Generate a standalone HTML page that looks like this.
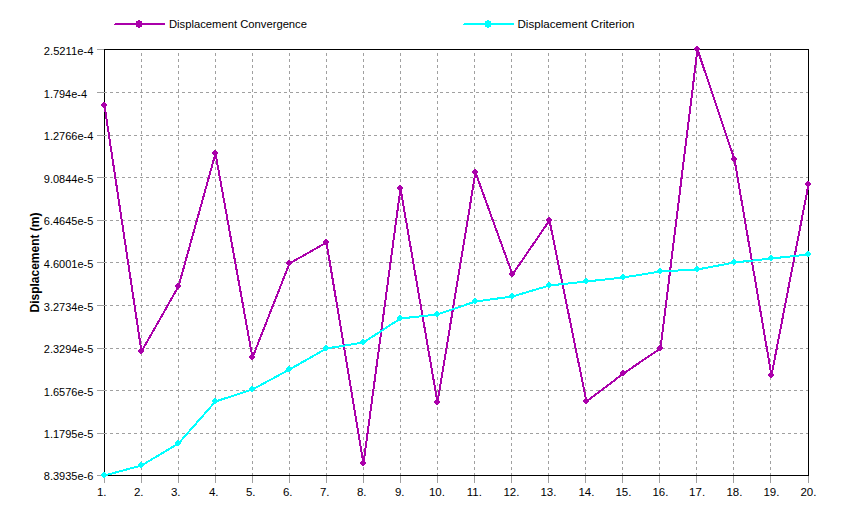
<!DOCTYPE html><html><head><meta charset="utf-8"><style>html,body{margin:0;padding:0;background:#fff;overflow:hidden;}svg{display:block;}text{font-family:"Liberation Sans",Arial,sans-serif;font-size:11px;fill:#000;}</style></head><body><svg width="847" height="522" viewBox="0 0 847 522"><rect width="847" height="522" fill="#fff"/><rect x="104.5" y="49.5" width="704" height="426" fill="none" stroke="#000" stroke-width="1" shape-rendering="crispEdges"/><path d="M104,92.5H808M104,135.5H808M104,177.5H808M104,220.5H808M104,262.5H808M104,305.5H808M104,348.5H808M104,390.5H808M104,433.5H808" stroke="#a0a0a0" stroke-width="1" stroke-dasharray="3 3" fill="none" shape-rendering="crispEdges"/><path d="M141.5,53V475M178.5,53V475M215.5,53V475M252.5,53V475M289.5,53V475M326.5,53V475M363.5,53V475M400.5,53V475M437.5,53V475M474.5,53V475M511.5,53V475M548.5,53V475M585.5,53V475M622.5,53V475M659.5,53V475M696.5,53V475M733.5,53V475M770.5,53V475" stroke="#a0a0a0" stroke-width="1" stroke-dasharray="3 3" fill="none" shape-rendering="crispEdges"/><path d="M97,49.5H104M97,92.5H104M97,135.5H104M97,177.5H104M97,220.5H104M97,262.5H104M97,305.5H104M97,348.5H104M97,390.5H104M97,433.5H104M97,475.5H104M104.5,476V483M141.5,476V483M178.5,476V483M215.5,476V483M252.5,476V483M289.5,476V483M326.5,476V483M363.5,476V483M400.5,476V483M437.5,476V483M474.5,476V483M511.5,476V483M548.5,476V483M585.5,476V483M622.5,476V483M659.5,476V483M696.5,476V483M733.5,476V483M770.5,476V483M808.5,476V483" stroke="#a0a0a0" stroke-width="1" fill="none" shape-rendering="crispEdges"/><path d="M104.48,105.48 L141.48,351.48 L178.48,286.48 L215.48,153.48 L252.48,357.48 L289.48,263.48 L326.48,242.48 L363.48,463.48 L400.48,188.48 L437.48,402.48 L475.48,172.48 L512.48,274.48 L549.48,220.48 L586.48,401.48 L623.48,373.48 L660.48,348.48 L697.48,49.48 L734.48,159.48 L771.48,375.48 L808.48,184.48" stroke="#aa00aa" stroke-width="2" fill="none" stroke-linejoin="round" stroke-linecap="round" shape-rendering="crispEdges"/><path d="M103,102 L105,102 L105,103 L106,103 L106,104 L107,104 L107,106 L106,106 L106,107 L105,107 L105,108 L103,108 L103,107 L102,107 L102,106 L101,106 L101,104 L102,104 L102,103 L103,103ZM140,348 L142,348 L142,349 L143,349 L143,350 L144,350 L144,352 L143,352 L143,353 L142,353 L142,354 L140,354 L140,353 L139,353 L139,352 L138,352 L138,350 L139,350 L139,349 L140,349ZM177,283 L179,283 L179,284 L180,284 L180,285 L181,285 L181,287 L180,287 L180,288 L179,288 L179,289 L177,289 L177,288 L176,288 L176,287 L175,287 L175,285 L176,285 L176,284 L177,284ZM214,150 L216,150 L216,151 L217,151 L217,152 L218,152 L218,154 L217,154 L217,155 L216,155 L216,156 L214,156 L214,155 L213,155 L213,154 L212,154 L212,152 L213,152 L213,151 L214,151ZM251,354 L253,354 L253,355 L254,355 L254,356 L255,356 L255,358 L254,358 L254,359 L253,359 L253,360 L251,360 L251,359 L250,359 L250,358 L249,358 L249,356 L250,356 L250,355 L251,355ZM288,260 L290,260 L290,261 L291,261 L291,262 L292,262 L292,264 L291,264 L291,265 L290,265 L290,266 L288,266 L288,265 L287,265 L287,264 L286,264 L286,262 L287,262 L287,261 L288,261ZM325,239 L327,239 L327,240 L328,240 L328,241 L329,241 L329,243 L328,243 L328,244 L327,244 L327,245 L325,245 L325,244 L324,244 L324,243 L323,243 L323,241 L324,241 L324,240 L325,240ZM362,460 L364,460 L364,461 L365,461 L365,462 L366,462 L366,464 L365,464 L365,465 L364,465 L364,466 L362,466 L362,465 L361,465 L361,464 L360,464 L360,462 L361,462 L361,461 L362,461ZM399,185 L401,185 L401,186 L402,186 L402,187 L403,187 L403,189 L402,189 L402,190 L401,190 L401,191 L399,191 L399,190 L398,190 L398,189 L397,189 L397,187 L398,187 L398,186 L399,186ZM436,399 L438,399 L438,400 L439,400 L439,401 L440,401 L440,403 L439,403 L439,404 L438,404 L438,405 L436,405 L436,404 L435,404 L435,403 L434,403 L434,401 L435,401 L435,400 L436,400ZM474,169 L476,169 L476,170 L477,170 L477,171 L478,171 L478,173 L477,173 L477,174 L476,174 L476,175 L474,175 L474,174 L473,174 L473,173 L472,173 L472,171 L473,171 L473,170 L474,170ZM511,271 L513,271 L513,272 L514,272 L514,273 L515,273 L515,275 L514,275 L514,276 L513,276 L513,277 L511,277 L511,276 L510,276 L510,275 L509,275 L509,273 L510,273 L510,272 L511,272ZM548,217 L550,217 L550,218 L551,218 L551,219 L552,219 L552,221 L551,221 L551,222 L550,222 L550,223 L548,223 L548,222 L547,222 L547,221 L546,221 L546,219 L547,219 L547,218 L548,218ZM585,398 L587,398 L587,399 L588,399 L588,400 L589,400 L589,402 L588,402 L588,403 L587,403 L587,404 L585,404 L585,403 L584,403 L584,402 L583,402 L583,400 L584,400 L584,399 L585,399ZM622,370 L624,370 L624,371 L625,371 L625,372 L626,372 L626,374 L625,374 L625,375 L624,375 L624,376 L622,376 L622,375 L621,375 L621,374 L620,374 L620,372 L621,372 L621,371 L622,371ZM659,345 L661,345 L661,346 L662,346 L662,347 L663,347 L663,349 L662,349 L662,350 L661,350 L661,351 L659,351 L659,350 L658,350 L658,349 L657,349 L657,347 L658,347 L658,346 L659,346ZM696,46 L698,46 L698,47 L699,47 L699,48 L700,48 L700,50 L699,50 L699,51 L698,51 L698,52 L696,52 L696,51 L695,51 L695,50 L694,50 L694,48 L695,48 L695,47 L696,47ZM733,156 L735,156 L735,157 L736,157 L736,158 L737,158 L737,160 L736,160 L736,161 L735,161 L735,162 L733,162 L733,161 L732,161 L732,160 L731,160 L731,158 L732,158 L732,157 L733,157ZM770,372 L772,372 L772,373 L773,373 L773,374 L774,374 L774,376 L773,376 L773,377 L772,377 L772,378 L770,378 L770,377 L769,377 L769,376 L768,376 L768,374 L769,374 L769,373 L770,373ZM807,181 L809,181 L809,182 L810,182 L810,183 L811,183 L811,185 L810,185 L810,186 L809,186 L809,187 L807,187 L807,186 L806,186 L806,185 L805,185 L805,183 L806,183 L806,182 L807,182Z" fill="#aa00aa" shape-rendering="crispEdges"/><path d="M104.48,475.48 L141.48,465.48 L178.48,443.48 L215.48,401.48 L252.48,389.48 L289.48,369.48 L326.48,348.48 L363.48,342.48 L400.48,318.48 L437.48,314.48 L475.48,301.48 L512.48,296.48 L549.48,285.48 L586.48,281.48 L623.48,277.48 L660.48,271.48 L697.48,269.48 L734.48,262.48 L771.48,258.48 L808.48,254.48" stroke="#00ffff" stroke-width="2" fill="none" stroke-linejoin="round" stroke-linecap="round" shape-rendering="crispEdges"/><path d="M103,472 L105,472 L105,473 L106,473 L106,474 L107,474 L107,476 L106,476 L106,477 L105,477 L105,478 L103,478 L103,477 L102,477 L102,476 L101,476 L101,474 L102,474 L102,473 L103,473ZM140,462 L142,462 L142,463 L143,463 L143,464 L144,464 L144,466 L143,466 L143,467 L142,467 L142,468 L140,468 L140,467 L139,467 L139,466 L138,466 L138,464 L139,464 L139,463 L140,463ZM177,440 L179,440 L179,441 L180,441 L180,442 L181,442 L181,444 L180,444 L180,445 L179,445 L179,446 L177,446 L177,445 L176,445 L176,444 L175,444 L175,442 L176,442 L176,441 L177,441ZM214,398 L216,398 L216,399 L217,399 L217,400 L218,400 L218,402 L217,402 L217,403 L216,403 L216,404 L214,404 L214,403 L213,403 L213,402 L212,402 L212,400 L213,400 L213,399 L214,399ZM251,386 L253,386 L253,387 L254,387 L254,388 L255,388 L255,390 L254,390 L254,391 L253,391 L253,392 L251,392 L251,391 L250,391 L250,390 L249,390 L249,388 L250,388 L250,387 L251,387ZM288,366 L290,366 L290,367 L291,367 L291,368 L292,368 L292,370 L291,370 L291,371 L290,371 L290,372 L288,372 L288,371 L287,371 L287,370 L286,370 L286,368 L287,368 L287,367 L288,367ZM325,345 L327,345 L327,346 L328,346 L328,347 L329,347 L329,349 L328,349 L328,350 L327,350 L327,351 L325,351 L325,350 L324,350 L324,349 L323,349 L323,347 L324,347 L324,346 L325,346ZM362,339 L364,339 L364,340 L365,340 L365,341 L366,341 L366,343 L365,343 L365,344 L364,344 L364,345 L362,345 L362,344 L361,344 L361,343 L360,343 L360,341 L361,341 L361,340 L362,340ZM399,315 L401,315 L401,316 L402,316 L402,317 L403,317 L403,319 L402,319 L402,320 L401,320 L401,321 L399,321 L399,320 L398,320 L398,319 L397,319 L397,317 L398,317 L398,316 L399,316ZM436,311 L438,311 L438,312 L439,312 L439,313 L440,313 L440,315 L439,315 L439,316 L438,316 L438,317 L436,317 L436,316 L435,316 L435,315 L434,315 L434,313 L435,313 L435,312 L436,312ZM474,298 L476,298 L476,299 L477,299 L477,300 L478,300 L478,302 L477,302 L477,303 L476,303 L476,304 L474,304 L474,303 L473,303 L473,302 L472,302 L472,300 L473,300 L473,299 L474,299ZM511,293 L513,293 L513,294 L514,294 L514,295 L515,295 L515,297 L514,297 L514,298 L513,298 L513,299 L511,299 L511,298 L510,298 L510,297 L509,297 L509,295 L510,295 L510,294 L511,294ZM548,282 L550,282 L550,283 L551,283 L551,284 L552,284 L552,286 L551,286 L551,287 L550,287 L550,288 L548,288 L548,287 L547,287 L547,286 L546,286 L546,284 L547,284 L547,283 L548,283ZM585,278 L587,278 L587,279 L588,279 L588,280 L589,280 L589,282 L588,282 L588,283 L587,283 L587,284 L585,284 L585,283 L584,283 L584,282 L583,282 L583,280 L584,280 L584,279 L585,279ZM622,274 L624,274 L624,275 L625,275 L625,276 L626,276 L626,278 L625,278 L625,279 L624,279 L624,280 L622,280 L622,279 L621,279 L621,278 L620,278 L620,276 L621,276 L621,275 L622,275ZM659,268 L661,268 L661,269 L662,269 L662,270 L663,270 L663,272 L662,272 L662,273 L661,273 L661,274 L659,274 L659,273 L658,273 L658,272 L657,272 L657,270 L658,270 L658,269 L659,269ZM696,266 L698,266 L698,267 L699,267 L699,268 L700,268 L700,270 L699,270 L699,271 L698,271 L698,272 L696,272 L696,271 L695,271 L695,270 L694,270 L694,268 L695,268 L695,267 L696,267ZM733,259 L735,259 L735,260 L736,260 L736,261 L737,261 L737,263 L736,263 L736,264 L735,264 L735,265 L733,265 L733,264 L732,264 L732,263 L731,263 L731,261 L732,261 L732,260 L733,260ZM770,255 L772,255 L772,256 L773,256 L773,257 L774,257 L774,259 L773,259 L773,260 L772,260 L772,261 L770,261 L770,260 L769,260 L769,259 L768,259 L768,257 L769,257 L769,256 L770,256ZM807,251 L809,251 L809,252 L810,252 L810,253 L811,253 L811,255 L810,255 L810,256 L809,256 L809,257 L807,257 L807,256 L806,256 L806,255 L805,255 L805,253 L806,253 L806,252 L807,252Z" fill="#00ffff" shape-rendering="crispEdges"/><path d="M115,23H165V25H115ZM114,24H115V25H114Z" fill="#aa00aa" shape-rendering="crispEdges"/><path d="M138,20 L140,20 L140,21 L142,21 L142,23 L143,23 L143,25 L142,25 L142,27 L140,27 L140,28 L138,28 L138,27 L136,27 L136,25 L135,25 L135,23 L136,23 L136,21 L138,21Z" fill="#aa00aa" shape-rendering="crispEdges"/><path d="M464,23H514V25H464ZM463,24H464V25H463Z" fill="#00ffff" shape-rendering="crispEdges"/><path d="M487,20 L489,20 L489,21 L491,21 L491,23 L492,23 L492,25 L491,25 L491,27 L489,27 L489,28 L487,28 L487,27 L485,27 L485,25 L484,25 L484,23 L485,23 L485,21 L487,21Z" fill="#00ffff" shape-rendering="crispEdges"/><text x="169" y="28" textLength="138" lengthAdjust="spacingAndGlyphs">Displacement Convergence</text><text x="517.5" y="28" textLength="117" lengthAdjust="spacingAndGlyphs">Displacement Criterion</text><text x="43.8" y="55" style="font-size:11.2px" textLength="49.6" lengthAdjust="spacingAndGlyphs">2.5211e-4</text><text x="43.8" y="98" style="font-size:11.2px" textLength="43.2" lengthAdjust="spacingAndGlyphs">1.794e-4</text><text x="43.8" y="140" style="font-size:11.2px" textLength="49.6" lengthAdjust="spacingAndGlyphs">1.2766e-4</text><text x="43.8" y="183" style="font-size:11.2px" textLength="49.6" lengthAdjust="spacingAndGlyphs">9.0844e-5</text><text x="43.8" y="225" style="font-size:11.2px" textLength="49.6" lengthAdjust="spacingAndGlyphs">6.4645e-5</text><text x="43.8" y="268" style="font-size:11.2px" textLength="49.6" lengthAdjust="spacingAndGlyphs">4.6001e-5</text><text x="43.8" y="311" style="font-size:11.2px" textLength="49.6" lengthAdjust="spacingAndGlyphs">3.2734e-5</text><text x="43.8" y="353" style="font-size:11.2px" textLength="49.6" lengthAdjust="spacingAndGlyphs">2.3294e-5</text><text x="43.8" y="396" style="font-size:11.2px" textLength="49.6" lengthAdjust="spacingAndGlyphs">1.6576e-5</text><text x="43.8" y="438" style="font-size:11.2px" textLength="49.6" lengthAdjust="spacingAndGlyphs">1.1795e-5</text><text x="43.8" y="480" style="font-size:11.2px" textLength="49.6" lengthAdjust="spacingAndGlyphs">8.3935e-6</text><text x="101.7" y="496" text-anchor="middle" style="font-size:11.5px">1.</text><text x="138.7" y="496" text-anchor="middle" style="font-size:11.5px">2.</text><text x="175.7" y="496" text-anchor="middle" style="font-size:11.5px">3.</text><text x="213.7" y="496" text-anchor="middle" style="font-size:11.5px">4.</text><text x="250.7" y="496" text-anchor="middle" style="font-size:11.5px">5.</text><text x="287.7" y="496" text-anchor="middle" style="font-size:11.5px">6.</text><text x="324.7" y="496" text-anchor="middle" style="font-size:11.5px">7.</text><text x="361.7" y="496" text-anchor="middle" style="font-size:11.5px">8.</text><text x="399.7" y="496" text-anchor="middle" style="font-size:11.5px">9.</text><text x="436.9" y="496" text-anchor="middle" style="font-size:11.5px">10.</text><text x="474.4" y="496" text-anchor="middle" style="font-size:11.5px">11.</text><text x="511.4" y="496" text-anchor="middle" style="font-size:11.5px">12.</text><text x="548.4" y="496" text-anchor="middle" style="font-size:11.5px">13.</text><text x="586.4" y="496" text-anchor="middle" style="font-size:11.5px">14.</text><text x="623.4" y="496" text-anchor="middle" style="font-size:11.5px">15.</text><text x="660.4" y="496" text-anchor="middle" style="font-size:11.5px">16.</text><text x="697.1" y="496" text-anchor="middle" style="font-size:11.5px">17.</text><text x="734.4" y="496" text-anchor="middle" style="font-size:11.5px">18.</text><text x="771.4" y="496" text-anchor="middle" style="font-size:11.5px">19.</text><text x="808.4" y="496" text-anchor="middle" style="font-size:11.5px">20.</text><text transform="translate(39,262.5) rotate(-90)" text-anchor="middle" style="font-weight:bold;font-size:12px">Displacement (m)</text></svg></body></html>
